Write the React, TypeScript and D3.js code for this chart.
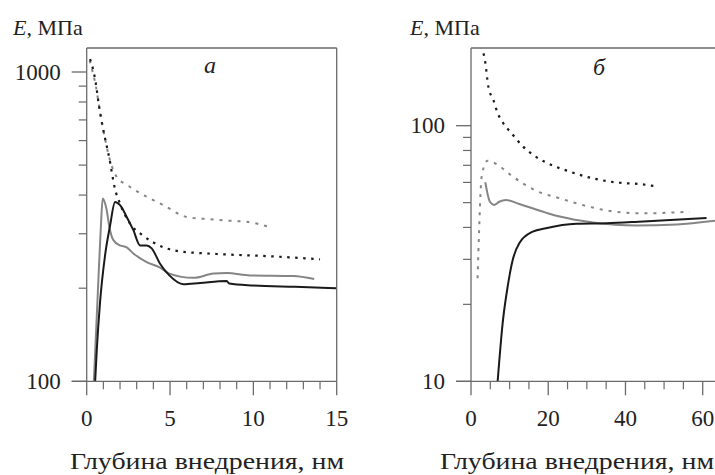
import React from "react";
import * as d3 from "d3";

// Panel a
const aXTicks = [0, 5, 10, 15];
const aYTicks = [100, 1000];
const aYMinor = [200, 300, 400, 500, 600, 700, 800, 900];
const aBlackSolidX = [0.5, 0.6, 0.8, 1.1, 1.4, 1.7, 2.0, 2.4, 2.8, 3.2, 3.6, 3.9, 4.4, 4.96, 5.8, 6.8, 8.4, 8.55, 10.0, 12.5, 15];
const aBlackSolidE = [98, 125, 180, 255, 318, 380, 371, 340, 308, 275, 275, 269, 240, 220, 206, 208, 211, 207, 204, 202, 200];
const aGraySolidX = [0.42, 0.7, 0.84, 0.96, 1.16, 1.4, 1.6, 2.0, 2.4, 2.8, 3.6, 4.4, 4.96, 6.4, 7.6, 8.4, 9.8, 12.4, 13.65];
const aGraySolidE = [97, 212, 308, 390, 366, 308, 286, 275, 271, 259, 243, 233, 223, 216, 223, 224, 220, 219, 214];
const aBlackDotX = [0.2, 0.4, 0.54, 0.74, 0.94, 1.16, 1.34, 1.7, 1.96, 2.66, 3.3, 4.0, 5.4, 7.8, 10.8, 14.0];
const aBlackDotE = [1100, 1010, 923, 776, 673, 590, 532, 418, 380, 320, 298, 281, 264, 258, 254, 248];
const aGrayDotX = [0.18, 0.38, 0.55, 0.75, 0.95, 1.15, 1.35, 1.8, 2.4, 3.2, 4.6, 6.0, 7.4, 8.8, 9.6, 11.1];
const aGrayDotE = [1090, 990, 900, 770, 670, 590, 530, 458, 432, 406, 371, 340, 334, 330, 328, 314];

// Panel b
const bXTicks = [0, 20, 40, 60];
const bYTicks = [10, 100];
const bYMinor = [20, 30, 40, 50, 60, 70, 80, 90];
const bBlackSolidX = [6.9, 8.2, 9.5, 10.8, 12.5, 16.0, 19.4, 27.3, 35.1, 44.6, 61];
const bBlackSolidE = [10, 16.9, 23.5, 29.8, 34.7, 38.5, 39.7, 41.3, 41.5, 42.2, 43.5];
const bGraySolidX = [3.7, 4.9, 6.0, 7.3, 9.05, 12.5, 19.4, 23, 31.6, 42.8, 53.2, 63.2];
const bGraySolidE = [60.1, 50.4, 49, 50.4, 51.2, 49.4, 45.7, 44.1, 41.8, 40.7, 41.1, 42.5];
const bBlackDotX = [2.5, 3.6, 4.5, 5.8, 6.8, 8.4, 10.5, 13.5, 16.1, 19.6, 25.6, 31.6, 38.5, 43.7, 47.6];
const bBlackDotE = [205, 181, 142, 126, 113, 102, 93.4, 82.8, 76.8, 71.6, 66.1, 62.2, 59.8, 59.1, 58];
const bGrayDotX = [1.7, 2.1, 2.6, 3.0, 4.3, 7.3, 10.3, 13.4, 16.8, 23, 27.3, 36, 44.6, 56.6];
const bGrayDotE = [25.3, 39, 59.5, 66.1, 73, 69.6, 64.1, 59.5, 55.7, 52, 49.7, 46.4, 45.4, 46.1];

const yLabel = "МПа";
const xTitle = "Глубина внедрения, нм";

const FONT = '"Liberation Serif"';
const BLACK = "#1a1a1a";
const GRAY = "#858585";
const FRAME = "#6a6a6a";

type Series = { xs: number[]; es: number[]; color: string; dash?: string; width: number };

function Panel(props: {
  x0: number; x1: number; top: number; bottom: number;
  xDomain: [number, number]; xRange: [number, number];
  yDomain: [number, number]; yRange: [number, number];
  xTicks: number[]; xMinorStep: number; xMinorMax: number;
  yTicks: number[]; yMinor: number[];
  series: Series[]; id: string; rightBorder: boolean;
  letter: string; letterX: number; letterY: number;
  titleX: number; yTitleX: number;
}) {
  const p = props;
  const x = d3.scaleLinear().domain(p.xDomain).range(p.xRange);
  const y = d3.scaleLog().domain(p.yDomain).range(p.yRange);
  const minors: number[] = [];
  for (let v = 0; v <= p.xMinorMax + 1e-9; v += p.xMinorStep) {
    if (!p.xTicks.some((t) => Math.abs(t - v) < 1e-9)) minors.push(v);
  }
  const txt = { fontFamily: FONT } as React.CSSProperties;
  return (
    <g>
      <defs>
        <clipPath id={p.id}>
          <rect x={p.x0} y={p.top} width={p.x1 - p.x0} height={p.bottom - p.top} />
        </clipPath>
      </defs>
      <g clipPath={`url(#${p.id})`}>
        {p.series.map((s, i) => {
          const pts = s.xs.map((v, k) => [v, s.es[k]] as [number, number]);
          const line = d3
            .line<[number, number]>()
            .x((d) => x(d[0]))
            .y((d) => y(d[1]))
            .curve(d3.curveMonotoneX);
          return (
            <path
              key={i}
              d={line(pts) || ""}
              fill="none"
              stroke={s.color}
              strokeWidth={s.width}
              strokeDasharray={s.dash}
              strokeLinejoin="round"
            />
          );
        })}
      </g>
      {/* frame */}
      <line x1={p.x0} x2={p.x0} y1={p.top} y2={p.bottom} stroke={FRAME} strokeWidth={1.3} />
      <line x1={p.x0} x2={p.x1} y1={p.top} y2={p.top} stroke={FRAME} strokeWidth={1.3} />
      <line x1={p.x0 - 15} x2={p.x1} y1={p.bottom} y2={p.bottom} stroke={FRAME} strokeWidth={1.3} />
      {p.rightBorder && (
        <line x1={p.x1} x2={p.x1} y1={p.top} y2={p.bottom} stroke={FRAME} strokeWidth={1.3} />
      )}
      {/* x ticks */}
      {p.xTicks.map((t) => (
        <g key={"xt" + t}>
          <line x1={x(t)} x2={x(t)} y1={p.bottom} y2={p.bottom + 14} stroke={FRAME} strokeWidth={1.3} />
          <text x={x(t)} y={p.bottom + 45} textAnchor="middle" style={txt} fontSize={23} fill="#222">
            {t}
          </text>
        </g>
      ))}
      {minors.map((t) => (
        <line key={"xm" + t} x1={x(t)} x2={x(t)} y1={p.bottom} y2={p.bottom + 8} stroke={FRAME} strokeWidth={1.2} />
      ))}
      {/* y ticks */}
      {p.yTicks.map((t) => (
        <g key={"yt" + t}>
          <line x1={p.x0 - 15} x2={p.x0} y1={y(t)} y2={y(t)} stroke={FRAME} strokeWidth={1.3} />
          <text x={p.x0 - 26} y={y(t) + 7.5} textAnchor="end" style={txt} fontSize={23} fill="#222">
            {t}
          </text>
        </g>
      ))}
      {p.yMinor.map((t) => (
        <line key={"ym" + t} x1={p.x0 - 8} x2={p.x0} y1={y(t)} y2={y(t)} stroke={FRAME} strokeWidth={1.2} />
      ))}
      <text x={p.letterX} y={p.letterY} textAnchor="middle" style={txt} fontStyle="italic" fontSize={24} fill="#222">
        {p.letter}
      </text>
      <text x={p.yTitleX} y={35} style={txt} fontSize={22} fill="#222">
        <tspan fontStyle="italic">E</tspan>
        <tspan>{", " + yLabel}</tspan>
      </text>
      <text
        x={p.titleX}
        y={469}
        textAnchor="middle"
        style={txt}
        fontSize={24}
        fill="#222"
        textLength={274}
        lengthAdjust="spacingAndGlyphs"
      >
        {xTitle}
      </text>
    </g>
  );
}

export default function App() {
  return (
    <svg
      width={715}
      height={475}
      viewBox="0 0 715 475"
      style={{ position: "absolute", left: 0, top: 0, background: "#fff" }}
    >
      <rect x={0} y={0} width={715} height={475} fill="#fff" />
      <Panel
        id="clipA"
        x0={86.7}
        x1={336.7}
        top={48}
        bottom={381.3}
        xDomain={[0, 15]}
        xRange={[86.7, 336.7]}
        yDomain={[100, 1000]}
        yRange={[381.3, 72]}
        xTicks={aXTicks}
        xMinorStep={1}
        xMinorMax={15}
        yTicks={aYTicks}
        yMinor={aYMinor}
        rightBorder={true}
        letter="а"
        letterX={210}
        letterY={73}
        titleX={207}
        yTitleX={13}
        series={[
          { xs: aGrayDotX, es: aGrayDotE, color: GRAY, dash: "3,6", width: 2 },
          { xs: aBlackDotX, es: aBlackDotE, color: BLACK, dash: "2.5,5.5", width: 2.2 },
          { xs: aGraySolidX, es: aGraySolidE, color: GRAY, width: 2 },
          { xs: aBlackSolidX, es: aBlackSolidE, color: BLACK, width: 2 },
        ]}
      />
      <Panel
        id="clipB"
        x0={471}
        x1={715}
        top={48}
        bottom={381.3}
        xDomain={[0, 60]}
        xRange={[471, 702.7]}
        yDomain={[10, 100]}
        yRange={[381.3, 125.7]}
        xTicks={bXTicks}
        xMinorStep={5}
        xMinorMax={60}
        yTicks={bYTicks}
        yMinor={bYMinor}
        rightBorder={false}
        letter="б"
        letterX={599}
        letterY={75}
        titleX={577}
        yTitleX={410}
        series={[
          { xs: bGrayDotX, es: bGrayDotE, color: GRAY, dash: "3,6", width: 2 },
          { xs: bBlackDotX, es: bBlackDotE, color: BLACK, dash: "2.5,5.5", width: 2.2 },
          { xs: bGraySolidX, es: bGraySolidE, color: GRAY, width: 2 },
          { xs: bBlackSolidX, es: bBlackSolidE, color: BLACK, width: 2 },
        ]}
      />
    </svg>
  );
}
